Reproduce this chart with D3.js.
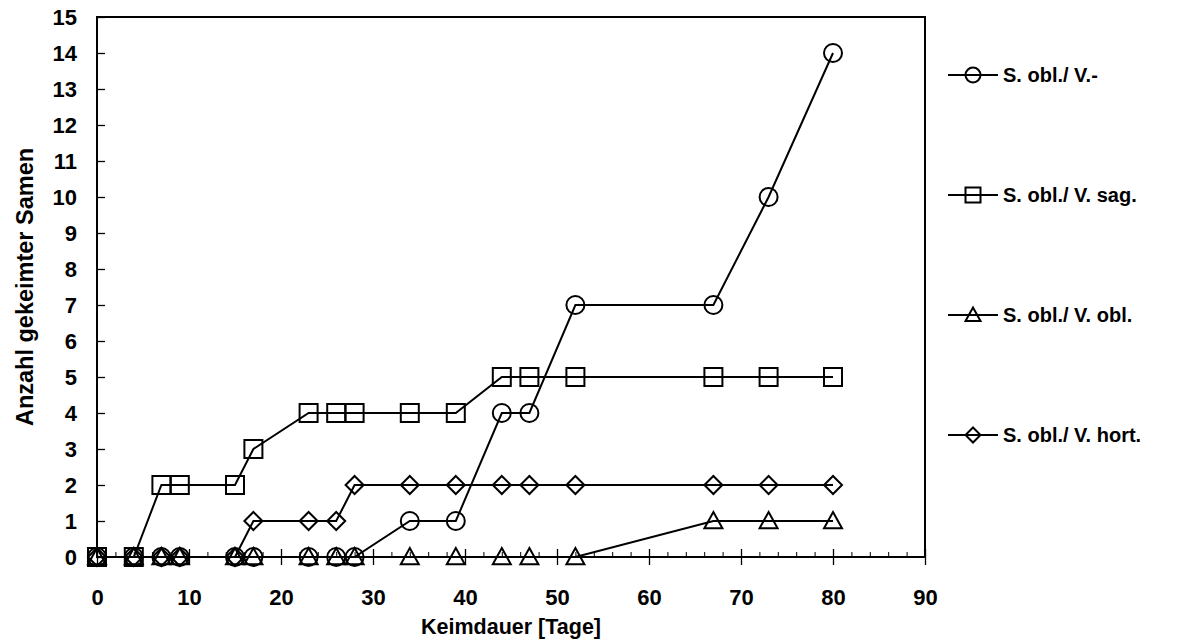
<!DOCTYPE html>
<html>
<head>
<meta charset="utf-8">
<script src="https://cdn.jsdelivr.net/npm/d3@7"></script>
<style>
  html, body { margin: 0; padding: 0; background: #fff; }
  svg { display: block; }
  text { font-family: "Liberation Sans", Arial, sans-serif; font-weight: bold; fill: #000; }
</style>
</head>
<body>
<svg id="chart" width="1184" height="639"></svg>
<script>
// Germination days (x) and cumulative germinated seeds per treatment
const days = [0, 4, 7, 9, 15, 17, 23, 26, 28, 34, 39, 44, 47, 52, 67, 73, 80];
const seriesNames = ["S. obl./ V.-", "S. obl./ V. sag.", "S. obl./ V. obl.", "S. obl./ V. hort."];
const seriesSymbols = ["circle", "square", "triangle", "diamond"];
const valuesMinus = [0, 0, 0, 0, 0, 0, 0, 0, 0, 1, 1, 4, 4, 7, 7, 10, 14];
const valuesSag   = [0, 0, 2, 2, 2, 3, 4, 4, 4, 4, 4, 5, 5, 5, 5, 5, 5];
const valuesObl   = [0, 0, 0, 0, 0, 0, 0, 0, 0, 0, 0, 0, 0, 0, 1, 1, 1];
const valuesHort  = [0, 0, 0, 0, 0, 1, 1, 1, 2, 2, 2, 2, 2, 2, 2, 2, 2];
const xTicks = [0, 10, 20, 30, 40, 50, 60, 70, 80, 90];
const yTicks = d3.range(0, 16);
const xTitle = "Keimdauer [Tage]";
const yTitle = "Anzahl gekeimter Samen";

const allValues = [valuesMinus, valuesSag, valuesObl, valuesHort];

const svg = d3.select("#chart");
const plot = { left: 97, right: 925, top: 17, bottom: 557 };

const x = d3.scaleLinear().domain([0, 90]).range([plot.left, plot.right]);
const y = d3.scaleLinear().domain([0, 15]).range([plot.bottom, plot.top]);

// marker outline paths centred on the origin, s = full width
function markerPath(kind, s) {
  const h = s / 2;
  switch (kind) {
    case "circle":
      return `M${-h},0A${h},${h} 0 1,0 ${h},0A${h},${h} 0 1,0 ${-h},0Z`;
    case "square":
      return `M${-h},${-h}H${h}V${h}H${-h}Z`;
    case "triangle":
      return `M0,${-h}L${h},${h * 0.8}H${-h}Z`;
    case "diamond":
      return `M0,${-h}L${h},0L0,${h}L${-h},0Z`;
  }
}

// plot frame
svg.append("rect")
  .attr("x", plot.left).attr("y", plot.top)
  .attr("width", plot.right - plot.left).attr("height", plot.bottom - plot.top)
  .attr("fill", "none").attr("stroke", "#000").attr("stroke-width", 2);

// y axis: inward ticks with labels
const yAxis = d3.axisLeft(y).tickValues(yTicks).tickSize(-8).tickPadding(20).tickFormat(d3.format("d"));
const gy = svg.append("g").attr("transform", `translate(${plot.left},0)`).call(yAxis);
gy.select(".domain").remove();
gy.selectAll(".tick line").attr("stroke", "#000").attr("stroke-width", 1.3);
gy.selectAll(".tick text").attr("font-size", 22).attr("font-family", "Liberation Sans, Arial, sans-serif").attr("font-weight", "bold");

// x axis: minor ticks every 2 days, major ticks crossing the axis
const gxMinor = svg.append("g").attr("transform", `translate(0,${plot.bottom})`)
  .call(d3.axisBottom(x).tickValues(d3.range(0, 91, 2).filter(d => d % 10 !== 0)).tickSize(-5).tickFormat(""));
gxMinor.select(".domain").remove();
gxMinor.selectAll(".tick line").attr("stroke", "#000").attr("stroke-width", 1);

const gx = svg.append("g").attr("transform", `translate(0,${plot.bottom})`)
  .call(d3.axisBottom(x).tickValues(xTicks).tickSize(8).tickPadding(24).tickFormat(d3.format("d")));
gx.select(".domain").remove();
gx.selectAll(".tick line").attr("stroke", "#000").attr("stroke-width", 1.3).attr("y1", -8);
gx.selectAll(".tick text").attr("font-size", 22).attr("font-family", "Liberation Sans, Arial, sans-serif").attr("font-weight", "bold");

// axis titles
svg.append("text")
  .attr("x", (plot.left + plot.right) / 2).attr("y", 634)
  .attr("text-anchor", "middle").attr("font-size", 21.5)
  .text(xTitle);
svg.append("text")
  .attr("transform", `translate(33,${(plot.top + plot.bottom) / 2}) rotate(-90)`)
  .attr("text-anchor", "middle").attr("font-size", 23.5)
  .text(yTitle);

// series lines and markers
const line = d3.line().x(d => x(d[0])).y(d => y(d[1]));
allValues.forEach((vals, i) => {
  const pts = days.map((d, j) => [d, vals[j]]);
  svg.append("path")
    .attr("d", line(pts))
    .attr("fill", "none").attr("stroke", "#000").attr("stroke-width", 2);
  svg.append("g").selectAll("path")
    .data(pts).join("path")
    .attr("transform", d => `translate(${x(d[0])},${y(d[1])})`)
    .attr("d", markerPath(seriesSymbols[i], 18))
    .attr("fill", "none").attr("stroke", "#000").attr("stroke-width", 2);
});

// legend
const legendY = [75, 195, 315, 435];
seriesNames.forEach((name, i) => {
  const g = svg.append("g").attr("transform", `translate(948,${legendY[i]})`);
  g.append("line").attr("x1", 0).attr("x2", 50).attr("y1", 0).attr("y2", 0)
    .attr("stroke", "#000").attr("stroke-width", 2);
  g.append("path").attr("transform", "translate(25,0)")
    .attr("d", markerPath(seriesSymbols[i], 15))
    .attr("fill", "none").attr("stroke", "#000").attr("stroke-width", 2);
  g.append("text").attr("x", 55).attr("y", 7).attr("font-size", 20).text(name);
});
</script>
</body>
</html>
